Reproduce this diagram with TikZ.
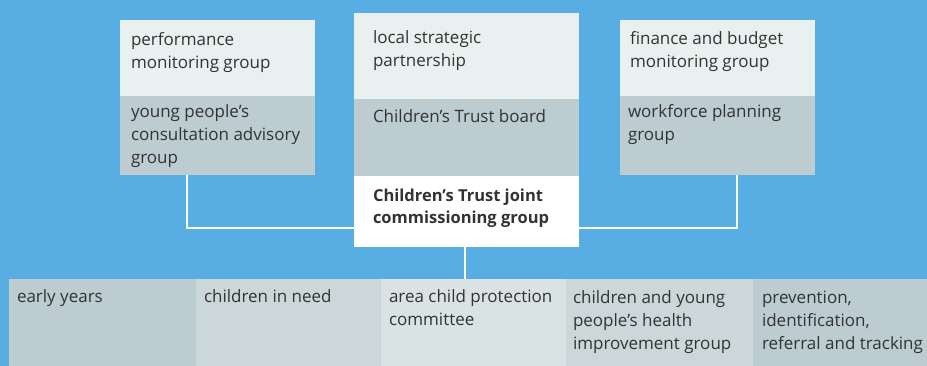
\documentclass[tikz,border=0pt]{standalone}
\usepackage{fontspec}
\setmainfont{Open Sans}
\definecolor{bgblue}{HTML}{58AEE2}
\definecolor{lightc}{HTML}{E9F0F0}
\definecolor{midc}{HTML}{BCCCD0}
\definecolor{midb}{HTML}{CBD7D9}
\definecolor{midl}{HTML}{DAE3E4}
\definecolor{txtc}{HTML}{333333}
\newcommand\fl{\vrule height 13pt depth 0pt width 0pt}
\tikzset{
  panel/.style={draw=none, inner sep=0pt, outer sep=0pt, anchor=north west},
  txt/.style={inner sep=0pt, outer sep=0pt, anchor=north west, align=left, text=txtc,
    font=\fontsize{17}{23}\selectfont},
  conn/.style={draw=white, line width=2pt}
}
\begin{document}
\begin{tikzpicture}[x=1pt,y=-1pt]
\useasboundingbox (0,0) rectangle (927,366);
\fill[bgblue] (0,0) rectangle (927,366);
% left box
\node[panel, fill=lightc, minimum width=195pt, minimum height=76pt] (ltop) at (120,20) {};
\node[panel, fill=midc, minimum width=195pt, minimum height=79pt] (lbot) at (120,96) {};
% centre box
\node[panel, fill=lightc, minimum width=225pt, minimum height=86pt] (ctop) at (354,13) {};
\node[panel, fill=midc, minimum width=225pt, minimum height=77pt] (cmid) at (354,99) {};
\node[panel, fill=white, minimum width=225pt, minimum height=71pt] (jcg) at (354,176) {};
% right box
\node[panel, fill=lightc, minimum width=195pt, minimum height=76pt] (rtop) at (620,20) {};
\node[panel, fill=midc, minimum width=195pt, minimum height=79pt] (rbot) at (620,96) {};
% bottom row
\node[panel, fill=midc, minimum width=187pt, minimum height=87pt] (ey) at (9,279) {};
\node[panel, fill=midb, minimum width=185pt, minimum height=87pt] (cin) at (196,279) {};
\node[panel, fill=midl, minimum width=185pt, minimum height=87pt] (acp) at (381,279) {};
\node[panel, fill=midb, minimum width=187pt, minimum height=87pt] (chi) at (566,279) {};
\node[panel, fill=midc, minimum width=174pt, minimum height=87pt] (pirt) at (753,279) {};
% connectors
\coordinate (lend) at (187,175);
\coordinate (rend) at (737,175);
\coordinate (lcor) at (187,228);
\coordinate (rcor) at (737,228);
\coordinate (cdown) at (465,247);
\coordinate (cbot) at (465,279);
\draw[conn] (lend) -- (lcor) -- (lcor -| jcg.west);
\draw[conn] (rend) -- (rcor) -- (rcor -| jcg.east);
\draw[conn] (cdown) -- (cbot);
% texts
\node[txt] (t1) at (131,32) {\fl performance\\monitoring group};
\node[txt] (t2) at (131,105) {\fl young people’s\\consultation advisory\\group};
\node[txt] (t3) at (373,31) {\fl local strategic\\partnership};
\node[txt] (t4) at (373,110) {\fl Children’s Trust board};
\node[txt, font=\fontsize{16.5}{22}\selectfont\bfseries] (t5) at (373,189) {\fl Children’s Trust joint\\commissioning group};
\node[txt] (t6) at (630,31) {\fl finance and budget\\monitoring group};
\node[txt] (t7) at (628,104) {\fl workforce planning\\group};
\node[txt] (t8) at (17,289) {\fl early years};
\node[txt] (t9) at (204,289) {\fl children in need};
\node[txt] (t10) at (389,289) {\fl area child protection\\committee};
\node[txt] (t11) at (573,290) {\fl children and young\\people’s health\\improvement group};
\node[txt] (t12) at (762,290) {\fl prevention,\\identification,\\referral and tracking};
\end{tikzpicture}
\end{document}
